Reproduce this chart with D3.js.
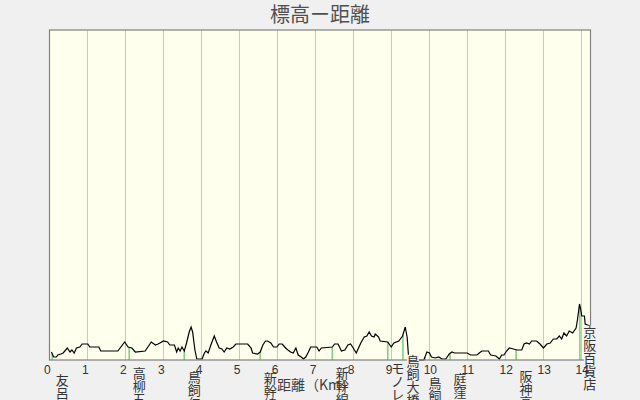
<!DOCTYPE html>
<html>
<head>
<meta charset="utf-8">
<script src="https://cdn.jsdelivr.net/npm/d3@7"></script>
<style>
  html, body { margin: 0; padding: 0; background: #f0f0f0; }
  svg { display: block; }
</style>
</head>
<body>
<svg width="640" height="400"></svg>
<script>
// distance (km) and elevation (m) along the route
const profileKm = [0.05, 0.11, 0.18, 0.22, 0.30, 0.36, 0.47, 0.54, 0.59, 0.65, 0.71, 0.80, 0.86, 1.01, 1.06, 1.30, 1.35, 1.80, 1.98, 2.07,
  2.17, 2.26, 2.52, 2.68, 2.79, 2.86, 2.91, 3.00, 3.11, 3.17, 3.29, 3.35, 3.39, 3.44, 3.49, 3.55, 3.61, 3.68, 3.73, 3.77,
  3.83, 3.88, 4.02, 4.08, 4.12, 4.18, 4.25, 4.34, 4.40, 4.47, 4.54, 4.60, 4.67, 4.75, 4.84, 4.91, 5.22, 5.31, 5.35, 5.48,
  5.55, 5.62, 5.69, 5.74, 5.83, 5.90, 5.99, 6.05, 6.13, 6.22, 6.28, 6.35, 6.42, 6.49, 6.55, 6.63, 6.69, 6.75, 6.82, 6.88,
  7.04, 7.10, 7.16, 7.45, 7.51, 7.60, 7.69, 7.78, 7.86, 7.93, 8.00, 8.08, 8.20, 8.29, 8.36, 8.42, 8.48, 8.55, 8.58, 8.67,
  8.71, 8.91, 9.00, 9.07, 9.20, 9.30, 9.37, 9.42, 9.46, 9.50, 9.86, 9.94, 10.01, 10.06, 10.16, 10.25, 10.34, 10.44, 10.53, 10.60,
  10.67, 11.00, 11.09, 11.26, 11.32, 11.39, 11.56, 11.62, 11.76, 11.85, 11.91, 11.97, 12.04, 12.11, 12.22, 12.31, 12.44, 12.50, 12.57, 12.64,
  12.70, 12.83, 12.92, 13.01, 13.10, 13.19, 13.27, 13.36, 13.43, 13.49, 13.55, 13.62, 13.69, 13.78, 13.87, 13.91, 13.96, 13.99, 14.02, 14.09,
  14.11, 14.24];
const profileElev = [0.8, 0.3, 0.3, 0.5, 0.6, 0.7, 1.2, 0.8, 1.0, 0.7, 1.2, 1.3, 1.6, 1.6, 1.3, 1.3, 0.9, 0.9, 1.8, 1.3,
  1.2, 0.8, 0.9, 1.8, 1.5, 1.6, 1.7, 1.9, 1.8, 1.5, 1.5, 0.8, 1.2, 0.9, 1.3, 0.9, 1.7, 2.8, 3.3, 2.8,
  1.0, 0.1, 0.1, 0.7, 0.9, 0.7, 1.5, 2.4, 1.8, 1.2, 1.1, 0.8, 1.2, 1.1, 1.3, 1.6, 1.6, 1.2, 0.7, 0.6,
  0.8, 1.5, 1.9, 1.9, 1.7, 1.3, 1.3, 1.6, 1.6, 1.2, 1.0, 0.8, 0.7, 1.2, 0.5, 0.3, 0.1, 0.3, 0.8, 1.3,
  1.3, 0.9, 1.2, 1.3, 1.6, 1.6, 0.9, 1.0, 1.5, 1.6, 1.2, 0.7, 1.7, 2.3, 2.4, 2.8, 2.4, 2.3, 2.6, 2.3,
  1.9, 1.8, 1.3, 1.7, 1.9, 2.4, 3.3, 2.3, 0.2, 0.0, 0.0, 0.8, 0.7, 0.3, 0.2, 0.3, 0.1, 0.1, 0.6, 0.8,
  0.7, 0.7, 0.5, 0.5, 0.7, 0.9, 0.9, 0.5, 0.4, 0.1, 0.5, 0.5, 0.9, 1.2, 1.1, 1.0, 1.0, 1.6, 1.7, 1.6,
  1.9, 1.9, 1.6, 1.2, 1.6, 1.7, 2.1, 2.1, 2.4, 2.1, 2.7, 2.4, 2.9, 2.7, 3.2, 4.1, 5.6, 5.1, 4.4, 4.4,
  3.6, 3.4];

// landmarks along the route
const stationNames = ["友呂岐", "高柳五", "鳥飼仁和寺", "新幹線", "新幹線", "モノレール", "鳥飼大橋", "鳥飼", "庭窪", "阪神高速", "京阪百貨店"];
const stationKm = [0.07, 2.10, 3.55, 5.55, 7.45, 8.91, 9.31, 9.89, 10.55, 12.29, 13.97];

const tickLabels = [0, 1, 2, 3, 4, 5, 6, 7, 8, 9, 10, 11, 12, 13, 14];

const svg = d3.select("svg");
const plotLeft = 49.5, plotRight = 590.5, plotTop = 30, plotBottom = 360;

const x = d3.scaleLinear().domain([0, 14.25]).range([plotLeft, plotRight]);
const y = d3.scaleLinear().domain([0, 33]).range([plotBottom, plotTop]);

function elevAt(km) {
  const i = d3.bisectLeft(profileKm, km);
  if (i <= 0) return profileElev[0];
  if (i >= profileKm.length) return profileElev[profileElev.length - 1];
  const t = (km - profileKm[i - 1]) / (profileKm[i] - profileKm[i - 1]);
  return profileElev[i - 1] + t * (profileElev[i] - profileElev[i - 1]);
}

// plot background
svg.append("rect")
  .attr("x", plotLeft).attr("y", plotTop)
  .attr("width", plotRight - plotLeft).attr("height", plotBottom - plotTop)
  .attr("fill", "#ffffee");

// grid lines
svg.append("g").selectAll("line")
  .data(tickLabels.slice(1))
  .enter().append("line")
  .attr("x1", d => Math.round(x(d)) + 0.5).attr("x2", d => Math.round(x(d)) + 0.5)
  .attr("y1", plotTop).attr("y2", plotBottom)
  .attr("stroke", "#c8c8c8").attr("stroke-width", 1);

// station marker lines
svg.append("g").selectAll("line")
  .data(stationKm)
  .enter().append("line")
  .attr("x1", d => x(d)).attr("x2", d => x(d))
  .attr("y1", y(0)).attr("y2", d => y(elevAt(d)))
  .attr("stroke", "#80d080").attr("stroke-width", 1.6);

// elevation profile
const line = d3.line()
  .x((d, i) => x(profileKm[i]))
  .y(d => y(d));
svg.append("path")
  .datum(profileElev)
  .attr("d", line)
  .attr("fill", "none")
  .attr("stroke", "#000")
  .attr("stroke-width", 1.2);

// plot border
svg.append("rect")
  .attr("x", plotLeft).attr("y", plotTop)
  .attr("width", plotRight - plotLeft).attr("height", plotBottom - plotTop)
  .attr("fill", "none")
  .attr("stroke", "#808080").attr("stroke-width", 1.2);

// station label backgrounds
const charStep = 13;
const labelGroup = svg.append("g");
stationKm.forEach((km, i) => {
  const lx = x(km) + 10;
  const ty = y(elevAt(km)) + 20;
  labelGroup.append("rect")
    .attr("x", lx - 6).attr("y", ty)
    .attr("width", 12).attr("height", stationNames[i].length * charStep)
    .attr("fill", "#f0f0f0");
});

// km tick labels
svg.append("g").selectAll("text")
  .data(tickLabels)
  .enter().append("text")
  .attr("x", d => x(d) - 5.5)
  .attr("y", 374)
  .attr("font-family", "Liberation Sans, Arial, sans-serif")
  .attr("font-size", 12)
  .attr("fill", "#333")
  .text(d => d);

// title
svg.append("text")
  .attr("x", 320).attr("y", 22)
  .attr("text-anchor", "middle")
  .attr("font-family", "Noto Sans CJK JP")
  .attr("font-size", 20)
  .attr("fill", "#505050")
  .text("標高ー距離");

// axis title
svg.append("text")
  .attr("x", 277).attr("y", 390)
  .attr("font-family", "Noto Sans CJK JP")
  .attr("font-size", 14)
  .attr("fill", "#404040")
  .text("距離（Km）");

// station labels, written vertically
stationKm.forEach((km, i) => {
  const lx = x(km) + 10;
  const ty = y(elevAt(km)) + 20;
  const t = svg.append("text")
    .attr("font-family", "Noto Sans CJK JP")
    .attr("font-size", 13)
    .attr("fill", "#333")
    .attr("text-anchor", "middle");
  Array.from(stationNames[i]).forEach((ch, j) => {
    t.append("tspan")
      .attr("x", lx)
      .attr("y", ty + j * charStep + 11)
      .text(ch);
  });
});
</script>
</body>
</html>
